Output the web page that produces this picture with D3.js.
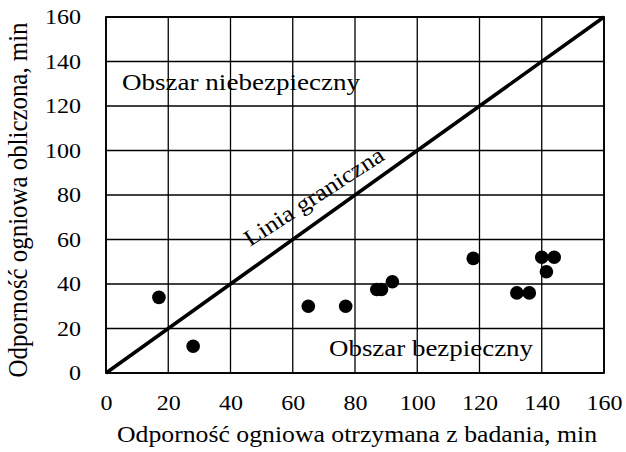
<!DOCTYPE html>
<html>
<head>
<meta charset="utf-8">
<script src="https://cdn.jsdelivr.net/npm/d3@7"></script>
<style>
  body { margin: 0; background: #fff; }
  text { font-family: "Liberation Serif", "Times New Roman", serif; fill: #000; }
</style>
</head>
<body>
<svg width="626" height="452"></svg>
<script>
// measured (x = from test, y = calculated), minutes
let testTime = [17, 28, 65, 77, 87, 88.5, 92, 118, 132, 136, 140, 144, 141.5];
let calcTime = [34, 12, 30, 30, 37.5, 37.5, 41, 51.5, 36, 36, 52, 52, 45.5];
let ticks = [0, 20, 40, 60, 80, 100, 120, 140, 160];
let limitLine = [0, 160];

let svg = d3.select("svg");

let m = { left: 106, right: 604, top: 17, bottom: 373 };

let x = d3.scaleLinear().domain([0, 160]).range([m.left, m.right]);
let y = d3.scaleLinear().domain([0, 160]).range([m.bottom, m.top]);

// grid
let grid = svg.append("g").attr("stroke", "#000").attr("stroke-width", 1.3);
grid.selectAll(".gx").data(ticks).join("line")
  .attr("x1", d => x(d)).attr("x2", d => x(d))
  .attr("y1", m.top).attr("y2", m.bottom);
grid.selectAll(".gy").data(ticks).join("line")
  .attr("x1", m.left).attr("x2", m.right)
  .attr("y1", d => y(d)).attr("y2", d => y(d));

svg.append("rect")
  .attr("x", m.left).attr("y", m.top)
  .attr("width", m.right - m.left).attr("height", m.bottom - m.top)
  .attr("fill", "none").attr("stroke", "#000").attr("stroke-width", 1.8);

// axes (labels only), glyphs a bit wide like the original
let xAxis = svg.append("g")
  .attr("transform", `translate(0,${m.bottom})`)
  .call(d3.axisBottom(x).tickValues(ticks).tickSize(0).tickPadding(22));
let yAxis = svg.append("g")
  .attr("transform", `translate(${m.left},0)`)
  .call(d3.axisLeft(y).tickValues(ticks).tickSize(0).tickPadding(25));
[xAxis, yAxis].forEach(a => {
  a.select(".domain").remove();
  a.selectAll("text")
    .attr("font-family", "Liberation Serif, serif")
    .attr("font-size", 21)
    .attr("fill", "#000")
    .attr("textLength", d => String(d).length * 12)
    .attr("lengthAdjust", "spacingAndGlyphs");
});

// limit line y = x
svg.append("line")
  .attr("x1", x(limitLine[0])).attr("y1", y(limitLine[0]))
  .attr("x2", x(limitLine[1])).attr("y2", y(limitLine[1]))
  .attr("stroke", "#000").attr("stroke-width", 3.6);

// points
svg.append("g").selectAll("circle")
  .data(testTime)
  .join("circle")
  .attr("cx", d => x(d))
  .attr("cy", (d, i) => y(calcTime[i]))
  .attr("r", 6.8)
  .attr("fill", "#000");

// annotations
svg.append("text").attr("x", 122).attr("y", 90)
  .attr("font-size", 23)
  .attr("textLength", 238).attr("lengthAdjust", "spacingAndGlyphs")
  .text("Obszar niebezpieczny");
svg.append("text").attr("x", 329).attr("y", 356)
  .attr("font-size", 23)
  .attr("textLength", 204).attr("lengthAdjust", "spacingAndGlyphs")
  .text("Obszar bezpieczny");

svg.append("text")
  .attr("transform", "translate(318,203) rotate(-33)")
  .attr("text-anchor", "middle")
  .attr("font-size", 23)
  .attr("textLength", 162).attr("lengthAdjust", "spacingAndGlyphs")
  .text("Linia graniczna");

// axis titles
svg.append("text").attr("x", 117).attr("y", 442)
  .attr("font-size", 23)
  .attr("textLength", 480).attr("lengthAdjust", "spacingAndGlyphs")
  .text("Odporność ogniowa otrzymana z badania, min");
svg.append("text")
  .attr("transform", "translate(27,200) scale(1.15,1) rotate(-90)")
  .attr("text-anchor", "middle").attr("font-size", 23)
  .attr("textLength", 355).attr("lengthAdjust", "spacingAndGlyphs")
  .text("Odporność ogniowa obliczona, min");
</script>
</body>
</html>
